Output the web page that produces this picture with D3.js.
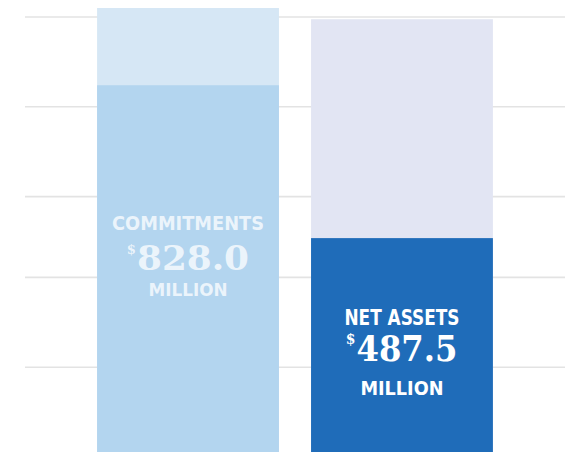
<!DOCTYPE html>
<html>
<head>
<meta charset="utf-8">
<script src="https://cdn.jsdelivr.net/npm/d3@7/dist/d3.min.js"></script>
<style>
  html, body { margin: 0; padding: 0; background: #ffffff; }
  svg { display: block; }
</style>
</head>
<body>
<svg id="chart" width="565" height="452"></svg>
<script>
// ---- data (millions of dollars) ----
const categories = ["Commitments", "Net Assets"];
const values = [828.0, 487.5];
const backgroundValues = [1000, 975];
const labelTitles = ["COMMITMENTS", "NET ASSETS"];
const labelAmounts = ["828.0", "487.5"];
const labelUnits = ["MILLION", "MILLION"];
const gridValues = [200, 400, 580, 780, 980];

// ---- layout ----
const W = 565, H = 452;
const baseline = 457;
const svg = d3.select("#chart");

const x = d3.scaleBand().domain(categories).range([65, 525]).paddingInner(0.15).paddingOuter(0.15);
const y = d3.scaleLinear().domain([0, 1000]).range([baseline, baseline - 449]);

const barColors = ["#b3d5ef", "#1f6cb9"];
const bgColors = ["#d6e7f5", "#e2e5f3"];

// gridlines
svg.append("g").selectAll("line").data(gridValues).join("line")
  .attr("x1", 25).attr("x2", W)
  .attr("y1", d => y(d)).attr("y2", d => y(d))
  .attr("stroke", "#e3e3e3").attr("stroke-width", 1.6);

// background bars
svg.append("g").selectAll("rect").data(categories).join("rect")
  .attr("x", d => x(d)).attr("width", x.bandwidth())
  .attr("y", (d, i) => y(backgroundValues[i]))
  .attr("height", (d, i) => baseline - y(backgroundValues[i]))
  .attr("fill", (d, i) => bgColors[i]);

// value bars
svg.append("g").selectAll("rect").data(categories).join("rect")
  .attr("x", d => x(d)).attr("width", x.bandwidth())
  .attr("y", (d, i) => y(values[i]))
  .attr("height", (d, i) => baseline - y(values[i]))
  .attr("fill", (d, i) => barColors[i]);

// labels
const labelSpec = [
  { title: 230, tSize: 20, tLen: 152, amt: 270, aSize: 33, aLen: 112, unit: 296, uSize: 17, uLen: 79, color: "#f2f8fd", op: 0.9 },
  { title: 325, tSize: 22, tLen: 115, amt: 361, aSize: 35, aLen: 101, unit: 395, uSize: 19, uLen: 83, color: "#ffffff", op: 1 }
];
const sans = "'Liberation Sans Narrow','DejaVu Sans Condensed','Roboto','Liberation Sans',sans-serif";
const serif = "'DejaVu Serif','Liberation Serif',serif";

categories.forEach((c, i) => {
  const s = labelSpec[i];
  const cx = x(c) + x.bandwidth() / 2;
  const g = svg.append("g").attr("fill", s.color).attr("opacity", s.op).attr("text-anchor", "middle");
  g.append("text").attr("x", cx).attr("y", s.title)
    .attr("font-family", sans).attr("font-weight", "bold").attr("font-size", s.tSize)
    .attr("textLength", s.tLen).attr("lengthAdjust", "spacingAndGlyphs")
    .text(labelTitles[i]);
  const numX = cx + 5;
  g.append("text").attr("x", numX).attr("y", s.amt)
    .attr("font-family", serif).attr("font-weight", "bold").attr("font-size", s.aSize)
    .attr("textLength", s.aLen).attr("lengthAdjust", "spacingAndGlyphs")
    .text(labelAmounts[i]);
  g.append("text").attr("x", numX - s.aLen / 2 - 1).attr("y", s.amt - s.aSize * 0.5)
    .attr("text-anchor", "end")
    .attr("font-family", serif).attr("font-weight", "bold").attr("font-size", s.aSize * 0.4)
    .text("$");
  g.append("text").attr("x", cx).attr("y", s.unit)
    .attr("font-family", sans).attr("font-weight", "bold").attr("font-size", s.uSize)
    .attr("textLength", s.uLen).attr("lengthAdjust", "spacingAndGlyphs")
    .text(labelUnits[i]);
});
</script>
</body>
</html>
